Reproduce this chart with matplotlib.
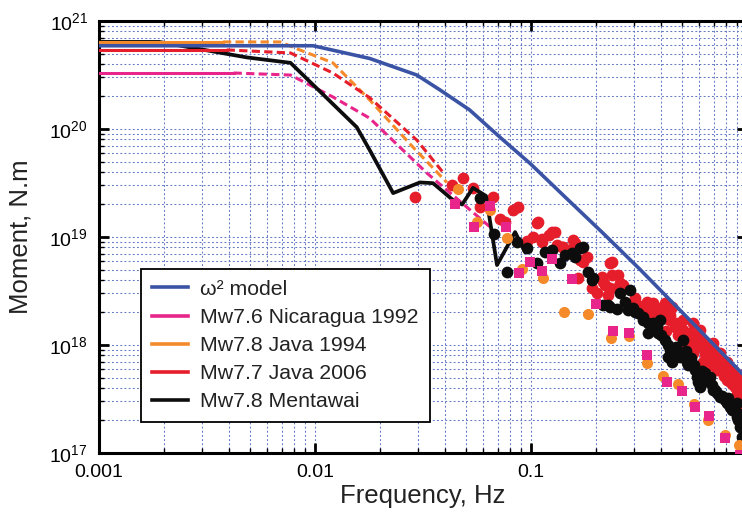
import numpy as np
import matplotlib
matplotlib.use('Agg')
import matplotlib.pyplot as plt
from matplotlib.ticker import FixedLocator, LogLocator, LogFormatterSciNotation, NullFormatter

plt.rcParams['font.family'] = ['Liberation Sans', 'DejaVu Sans']
plt.rcParams['mathtext.default'] = 'regular'

# ---------------- data ----------------
labels = ['ω² model', 'Mw7.6 Nicaragua 1992', 'Mw7.8 Java 1994', 'Mw7.7 Java 2006', 'Mw7.8 Mentawai']
x_ticks = [0.001, 0.01, 0.1]
x_tick_labels = ['0.001', '0.01', '0.1']
y_ticks = [1e17, 1e18, 1e19, 1e20, 1e21]

model_f = [0.001, 0.0098, 0.0179, 0.0296, 0.0379, 0.052, 0.0718, 0.099, 0.144, 0.215, 0.32, 1.0]
model_M = [5.9e20, 5.9e20, 4.5e20, 3.16e20, 2.3e20, 1.5e20, 8.4e19, 4.8e19, 2.34e19, 1.09e19, 5.0e18, 4.9e17]

nic_solid_f = [0.001, 0.0042]
nic_solid_M = [3.3e20, 3.3e20]
nic_dash_f = [0.0042, 0.0077, 0.0121, 0.0179, 0.033, 0.0646]
nic_dash_M = [3.3e20, 3.16e20, 1.98e20, 1.26e20, 3.9e19, 1.24e19]

j94_solid_f = [0.001, 0.00375]
j94_solid_M = [6.4e20, 6.4e20]
j94_dash_f = [0.00375, 0.0069, 0.0085, 0.0121, 0.0179, 0.0284, 0.0408]
j94_dash_M = [6.4e20, 6.4e20, 5.4e20, 4.1e20, 1.86e20, 6.8e19, 3.2e19]

j06_solid_f = [0.001, 0.0039]
j06_solid_M = [5.4e20, 5.4e20]
j06_dash_f = [0.0039, 0.0077, 0.0121, 0.0179, 0.0296, 0.039]
j06_dash_M = [5.4e20, 5.06e20, 3.3e20, 1.95e20, 7.9e19, 4.0e19]

men_line_f = [0.001, 0.0019, 0.00484, 0.0077, 0.0156, 0.0179, 0.0230, 0.0306, 0.0352,
              0.0435, 0.048, 0.0539, 0.0619, 0.0696, 0.0844, 0.0938]
men_line_M = [6.4e20, 6.4e20, 4.6e20, 4.1e20, 1.04e20, 6.4e19, 2.55e19, 3.2e19, 3.15e19,
              2.2e19, 2.0e19, 2.85e19, 2.4e19, 5.5e18, 1.11e19, 7.3e18]

nic_pts_f = [0.0445, 0.0646, 0.0544, 0.0766, 0.0989, 0.0880, 0.1125, 0.1250, 0.1549, 0.2000,
             0.2399, 0.2844, 0.3443, 0.4266, 0.5000, 0.5741, 0.6668, 0.7907, 0.929]
nic_pts_M = [2.02e19, 1.94e19, 1.24e19, 1.24e19, 5.9e18, 4.64e18, 4.84e18, 6.3e18, 4.08e18, 2.40e18,
             1.35e18, 1.29e18, 8.1e17, 4.54e17, 3.75e17, 2.67e17, 2.20e17, 1.38e17, 9.6e16]

j94_pts_f = [0.0459, 0.0562, 0.0646, 0.0774, 0.0908, 0.1137, 0.1422, 0.1836, 0.2344, 0.2844,
             0.3443, 0.4083, 0.4797, 0.5689, 0.6592, 0.7907, 0.9183]
j94_pts_M = [2.78e19, 1.38e19, 1.78e19, 9.8e18, 5.06e18, 4.17e18, 2.02e18, 1.94e18, 1.16e18, 1.21e18,
             6.8e17, 5.2e17, 4.35e17, 2.84e17, 2.02e17, 1.47e17, 1.19e17]

j06_pts_f = [0.0290, 0.0484, 0.0431, 0.0539, 0.0667, 0.0581, 0.0826, 0.0871, 0.0718, 0.0758,
             0.1066, 0.1250, 0.1021, 0.1125, 0.1406, 0.1564, 0.0957, 0.1077, 0.1211, 0.1291,
             0.1125, 0.1393, 0.1599, 0.1319, 0.1516, 0.1599, 0.1687, 0.1817, 0.1742, 0.1916,
             0.2155, 0.2323, 0.2371, 0.2371, 0.2529, 0.2667, 0.2500, 0.2323, 0.2133, 0.2202,
             0.2582, 0.2667, 0.2270, 0.2023, 0.1651, 0.3027, 0.3027, 0.3443, 0.3673, 0.3750,
             0.4169, 0.4083, 0.4498, 0.3556, 0.4406, 0.4083, 0.4645, 0.5058, 0.5445, 0.5875,
             0.5272, 0.6053, 0.6531, 0.6966, 0.7499, 0.8072, 0.8610, 0.9290, 0.7261, 0.8072,
             0.8790, 0.9290, 0.6252, 0.5445, 0.4406, 0.5058, 0.5623, 0.6053, 0.6252, 0.6745,
             0.6966, 0.7499, 0.7745, 0.8072, 0.8337, 0.8610, 0.8995, 0.9290, 0.9290,
             0.32, 0.34, 0.38, 0.40, 0.43, 0.47, 0.48, 0.52, 0.55, 0.58,
             0.62, 0.64, 0.66, 0.68, 0.72, 0.74, 0.76, 0.78, 0.82, 0.85,
             0.88, 0.90, 0.93, 0.42, 0.50, 0.56, 0.36, 0.70, 0.96, 0.96]
j06_pts_M = [2.35e19, 3.52e19, 3.03e19, 2.84e19, 2.35e19, 1.90e19, 1.78e19, 1.90e19, 1.47e19, 1.38e19,
             1.35e19, 1.11e19, 1.00e19, 9.6e18, 8.1e18, 9.4e18, 9.2e18, 1.38e19, 1.04e19, 1.11e19,
             9.0e18, 8.1e18, 7.9e18, 8.4e18, 7.6e18, 8.8e18, 6.1e18, 6.5e18, 5.9e18, 3.37e18,
             3.83e18, 5.7e18, 5.9e18, 4.45e18, 4.45e18, 3.59e18, 3.37e18, 3.37e18, 4.27e18, 3.59e18,
             3.75e18, 3.37e18, 2.90e18, 3.03e18, 4.17e18, 2.72e18, 2.50e18, 2.50e18, 2.45e18, 2.25e18,
             2.45e18, 2.25e18, 2.25e18, 1.82e18, 1.90e18, 1.82e18, 1.47e18, 1.38e18, 1.29e18, 1.19e18,
             1.04e18, 1.00e18, 9.0e17, 7.6e17, 7.6e17, 6.8e17, 5.9e17, 5.3e17, 5.9e17, 4.74e17,
             4.08e17, 3.30e17, 7.0e17, 9.0e17, 1.70e18, 1.70e18, 1.60e18, 1.38e18, 9.6e17, 7.7e17,
             1.04e18, 8.4e17, 5.9e17, 7.0e17, 4.74e17, 5.5e17, 3.83e17, 4.74e17, 2.90e17,
             2.3e18, 2.1e18, 2.0e18, 1.9e18, 1.75e18, 1.6e18, 1.25e18, 1.2e18, 1.1e18, 9.5e17,
             1.1e18, 8.3e17, 1.0e18, 6.5e17, 8.0e17, 6.3e17, 7.2e17, 5.2e17, 5.8e17, 4.4e17,
             5.0e17, 3.5e17, 4.0e17, 1.35e18, 1.0e18, 8.5e17, 1.65e18, 9.0e17, 4.4e17, 2.6e17]

men_pts_f = [0.0581, 0.0675, 0.0774, 0.0861, 0.0957, 0.1161, 0.1250, 0.1362, 0.1437, 0.1549,
             0.1687, 0.1599, 0.1742, 0.1066, 0.1836, 0.1916, 0.1936, 0.2155, 0.2270, 0.2500,
             0.2723, 0.2871, 0.2582, 0.2965, 0.2323, 0.2812, 0.3027, 0.3126, 0.3304, 0.3483,
             0.3673, 0.3828, 0.3631, 0.3954, 0.3483, 0.3873, 0.4169, 0.4406, 0.4498, 0.4898,
             0.5058, 0.5333, 0.5741, 0.5929, 0.6252, 0.6745, 0.7112, 0.7499, 0.8072, 0.8531,
             0.8995, 0.9290, 0.8995, 0.4498, 0.4645, 0.5058, 0.4305, 0.5272, 0.5875, 0.6397,
             0.6053, 0.6966, 0.7907, 0.8337, 0.8790, 0.9078, 0.6252,
             0.43, 0.47, 0.52, 0.55, 0.57, 0.62, 0.66, 0.69, 0.73, 0.77,
             0.82, 0.86, 0.92, 0.95, 0.37, 0.40, 0.33]
men_pts_M = [2.30e19, 1.07e19, 4.74e18, 9.0e18, 7.9e18, 7.3e18, 7.6e18, 5.7e18, 6.8e18, 7.1e18,
             7.9e18, 6.5e18, 8.1e18, 5.7e18, 4.74e18, 4.00e18, 4.17e18, 2.35e18, 2.35e18, 2.15e18,
             2.50e18, 3.23e18, 3.03e18, 2.20e18, 2.25e18, 2.11e18, 2.02e18, 1.98e18, 1.82e18, 1.60e18,
             1.60e18, 1.47e18, 1.38e18, 1.70e18, 1.29e18, 1.29e18, 1.11e18, 9.0e17, 7.0e17, 7.7e17,
             1.11e18, 6.5e17, 5.9e17, 4.54e17, 4.94e17, 5.06e17, 3.83e17, 3.30e17, 2.90e17, 2.50e17,
             2.15e17, 1.74e17, 2.90e17, 9.0e17, 8.4e17, 8.1e17, 7.7e17, 7.0e17, 5.06e17, 5.5e17,
             4.08e17, 3.83e17, 3.10e17, 2.67e17, 2.50e17, 2.02e17, 4.54e17,
             1.0e18, 9.5e17, 8.8e17, 7.5e17, 6.5e17, 5.8e17, 4.6e17, 4.3e17, 3.6e17, 3.4e17,
             3.2e17, 2.8e17, 2.3e17, 1.4e17, 1.45e18, 1.25e18, 1.7e18]

# ---------------- style ----------------
c_blue = '#3b53a4'
c_pink = '#e8258a'
c_orange = '#f58a2a'
c_red = '#e61e2b'
c_black = '#0d0d0d'

fig = plt.figure(figsize=(7.42, 5.20), dpi=100)
ax = fig.add_axes([99/742, 1 - 453/520, 648/742, 432/520])
ax.set_xscale('log')
ax.set_yscale('log')

dash = (0, (2.7, 1.4))
lw_c = 2.2

# dashed continuations
ax.plot(nic_dash_f, nic_dash_M, color=c_pink, lw=lw_c, ls=dash, zorder=2)
ax.plot(j94_dash_f, j94_dash_M, color=c_orange, lw=lw_c, ls=dash, zorder=2)
ax.plot(j06_dash_f, j06_dash_M, color=c_red, lw=lw_c, ls=dash, zorder=2)

# scatter points
ax.scatter(j06_pts_f, j06_pts_M, s=72, color=c_red, marker='o', linewidths=0, zorder=3)
h_men, = ax.plot(men_line_f, men_line_M, color=c_black, lw=2.7, zorder=4)
ax.scatter(men_pts_f, men_pts_M, s=72, color=c_black, marker='o', linewidths=0, zorder=4.5)
ax.scatter(j94_pts_f, j94_pts_M, s=64, color=c_orange, marker='o', linewidths=0, zorder=5)
ax.scatter(nic_pts_f, nic_pts_M, s=48, color=c_pink, marker='s', linewidths=0, zorder=6)

# solid lines
h_nic, = ax.plot(nic_solid_f, nic_solid_M, color=c_pink, lw=lw_c, zorder=6)
h_j94, = ax.plot(j94_solid_f, j94_solid_M, color=c_orange, lw=lw_c, zorder=6)
h_j06, = ax.plot(j06_solid_f, j06_solid_M, color=c_red, lw=lw_c, zorder=6)
h_model, = ax.plot(model_f, model_M, color=c_blue, lw=2.6, zorder=7)

ax.set_xlim(1e-3, 1.0)
ax.set_ylim(1e17, 1e21)

ax.xaxis.set_major_locator(FixedLocator(x_ticks))
ax.set_xticklabels(x_tick_labels)
ax.xaxis.set_minor_locator(LogLocator(base=10, subs=np.arange(2, 10), numticks=20))
ax.xaxis.set_minor_formatter(NullFormatter())
ax.yaxis.set_major_locator(FixedLocator(y_ticks))
ax.yaxis.set_major_formatter(LogFormatterSciNotation())
ax.yaxis.set_minor_locator(LogLocator(base=10, subs=np.arange(2, 10), numticks=20))
ax.yaxis.set_minor_formatter(NullFormatter())

ax.grid(True, which='both', color='#6479c4', linestyle=(0, (1.8, 2.2)), linewidth=0.75)
ax.set_axisbelow(True)

ax.tick_params(which='both', direction='in', top=True, right=True, colors='black')
ax.tick_params(which='major', length=7, width=2, labelsize=14, pad=8)
ax.tick_params(which='minor', length=3.5, width=1)
for s in ax.spines.values():
    s.set_linewidth(2.2)
    s.set_color('black')

ax.set_xlabel('Frequency, Hz', fontsize=18.5, labelpad=2, color='#222222')
ax.set_ylabel('Moment, N.m', fontsize=18.5, labelpad=12, color='#222222')

leg = ax.legend([h_model, h_nic, h_j94, h_j06, h_men], labels,
                loc='lower left', bbox_to_anchor=(0.0648, 0.0718), borderaxespad=0,
                fontsize=15.3, handlelength=1.7, handletextpad=0.6, labelspacing=0.43,
                borderpad=0.5, fancybox=False, framealpha=1, edgecolor='black')
leg.get_frame().set_linewidth(1.3)
for t in leg.get_texts():
    t.set_color('#222222')
for l in leg.get_lines():
    l.set_linewidth(2.6)
leg.set_zorder(10)

fig.savefig('out.png', dpi=100)
